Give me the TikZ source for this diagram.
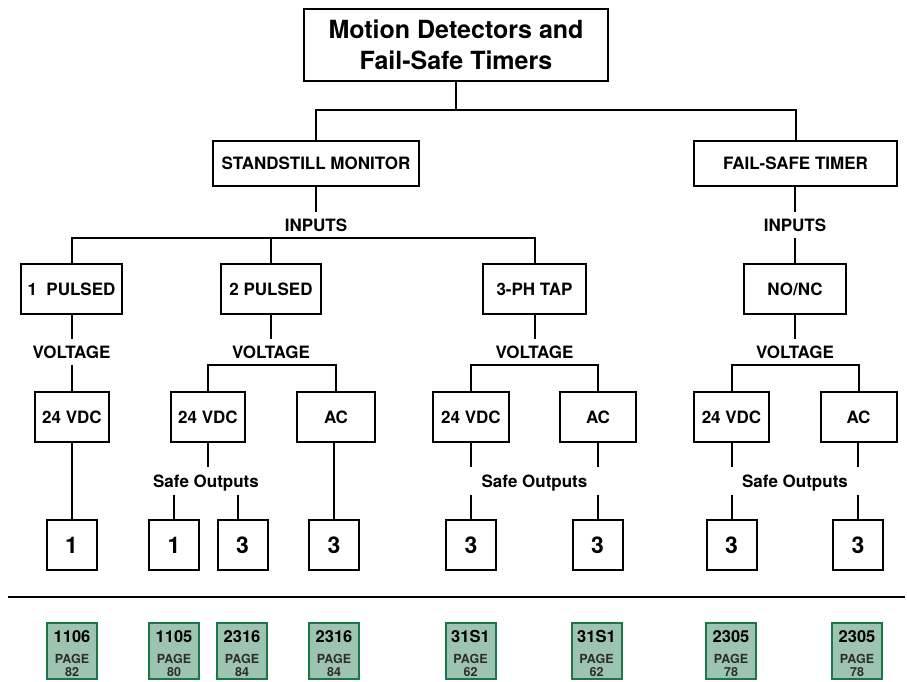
\documentclass[tikz,border=0pt]{standalone}
\usepackage{fontspec}
\setmainfont{TeX Gyre Heros}
\definecolor{refgreen}{RGB}{26,120,72}
\definecolor{refgreenfill}{RGB}{157,196,176}
\definecolor{pagegray}{RGB}{45,45,45}
\begin{document}
\begin{tikzpicture}[x=1pt,y=-1pt,
  ln/.style={line width=2pt},
  bx/.style={draw, line width=2pt, inner sep=0pt, minimum height=50pt, font=\fontsize{17}{19}\selectfont\bfseries},
  numbx/.style={draw, line width=2pt, inner sep=0pt, minimum width=50pt, minimum height=50pt, font=\fontsize{23}{25}\selectfont\bfseries},
  lbl/.style={inner sep=0pt, minimum height=25pt, font=\fontsize{17}{19}\selectfont\bfseries},
  solbl/.style={inner sep=0pt, minimum height=28pt, text height=12pt, text depth=0pt, font=\fontsize{17}{19}\selectfont\bfseries},
  refbx/.style={draw=refgreen, fill=refgreenfill, line width=2pt, inner sep=0pt, minimum width=50pt, minimum height=56pt},
  refnum/.style={anchor=base, inner sep=0pt, font=\fontsize{16.5}{18}\selectfont\bfseries},
  refpg/.style={anchor=base, inner sep=0pt, text=pagegray, font=\fontsize{12.5}{13}\selectfont\bfseries}
]
\useasboundingbox (0,0) rectangle (907,681);

% title and top level
\node[draw, line width=2pt, inner sep=0pt, minimum width=304pt, minimum height=72pt, align=center,
  font=\fontsize{25}{31}\selectfont\bfseries] (title) at (456,45) {Motion Detectors and\\Fail-Safe Timers};
\node[bx, minimum width=206pt, minimum height=45pt] (ssm) at (316,163.5) {STANDSTILL MONITOR};
\node[bx, minimum width=203pt, minimum height=45pt] (fst) at (795.5,163.5) {FAIL-SAFE TIMER};
\coordinate (tj) at (456,110);
\draw[ln] (title.south) -- (tj);
\draw[ln] (ssm.north) |- (tj) -| (fst.north);

% inputs
\node[lbl] (inA) at (316,225) {INPUTS};
\node[lbl] (inB) at (795,225) {INPUTS};
\node[bx, minimum width=101pt] (p1) at (71.5,289) {1\ \ PULSED};
\node[bx, minimum width=100pt] (p2) at (271,289) {2 PULSED};
\node[bx, minimum width=103pt] (p3) at (534.5,289) {3-PH TAP};
\node[bx, minimum width=102pt] (nonc) at (795,289) {NO/NC};
\draw[ln] (ssm.south) -- (inA.north);
\draw[ln] (p1.north) |- (inA.south) -| (p3.north);
\draw[ln] (p2.north) -- (p2.north |- inA.south);
\draw[ln] (fst.south -| inB.north) -- (inB.north);
\draw[ln] (inB.south) -- (nonc.north);

% voltage labels
\node[lbl] (vo1) at (71.5,352) {VOLTAGE};
\node[lbl] (vo2) at (271,352) {VOLTAGE};
\node[lbl] (vo3) at (534.5,352) {VOLTAGE};
\node[lbl] (vo4) at (795,352) {VOLTAGE};

% voltage boxes
\node[bx, minimum width=74pt] (v1) at (72,417) {24 VDC};
\node[bx, minimum width=74pt] (v2a) at (208,417) {24 VDC};
\node[bx, minimum width=78pt] (v2b) at (336,417) {AC};
\node[bx, minimum width=76pt] (v3a) at (471,417) {24 VDC};
\node[bx, minimum width=76pt] (v3b) at (598,417) {AC};
\node[bx, minimum width=75pt] (v4a) at (731.5,417) {24 VDC};
\node[bx, minimum width=76pt] (v4b) at (858.5,417) {AC};

\draw[ln] (p1.south) -- (vo1.north);
\draw[ln] (vo1.south) -- (v1.north -| vo1.south);
\draw[ln] (p2.south) -- (vo2.north);
\draw[ln] (v2a.north) |- (vo2.south) -| (v2b.north);
\draw[ln] (p3.south) -- (vo3.north);
\draw[ln] (v3a.north) |- (vo3.south) -| (v3b.north);
\draw[ln] (nonc.south) -- (vo4.north);
\draw[ln] (v4a.north) |- (vo4.south) -| (v4b.north);

% safe outputs labels
\node[solbl] (so2) at (206,481) {Safe Outputs};
\node[solbl] (so3) at (534.5,481) {Safe Outputs};
\node[solbl] (so4) at (795,481) {Safe Outputs};

% output boxes
\node[numbx] (o1) at (71.5,545) {1};
\node[numbx] (o2a) at (174,545) {1};
\node[numbx] (o2b) at (242.5,545) {3};
\node[numbx] (o2c) at (334,545) {3};
\node[numbx] (o3a) at (471,545) {3};
\node[numbx] (o3b) at (597.5,545) {3};
\node[numbx] (o4a) at (731.5,545) {3};
\node[numbx] (o4b) at (858,545) {3};

\draw[ln] (v1.south -| o1.north) -- (o1.north);
\draw[ln] (v2a.south) -- (v2a.south |- so2.north);
\draw[ln] (o2a.north) -- (o2a.north |- so2.south);
\draw[ln] ([xshift=-4.5pt]o2b.north) -- ([xshift=-4.5pt]o2b.north |- so2.south);
\draw[ln] (v2b.south -| o2c.north) -- (o2c.north);
\draw[ln] (v3a.south -| o3a.north) -- (o3a.north |- so3.north);
\draw[ln] (o3a.north) -- (o3a.north |- so3.south);
\draw[ln] (v3b.south -| o3b.north) -- (o3b.north |- so3.north);
\draw[ln] (o3b.north) -- (o3b.north |- so3.south);
\draw[ln] (v4a.south -| o4a.north) -- (o4a.north |- so4.north);
\draw[ln] (o4a.north) -- (o4a.north |- so4.south);
\draw[ln] (v4b.south -| o4b.north) -- (o4b.north |- so4.north);
\draw[ln] (o4b.north) -- (o4b.north |- so4.south);

% separator
\coordinate (sepL) at (8,597);
\coordinate (sepR) at (905,597);
\draw[ln] (sepL) -- (sepR);

% reference boxes
\foreach \nm/\cx/\code/\pg in {g1/72/1106/82, g2/174/1105/80, g3/242/2316/84, g4/334/2316/84,
    g5/470.5/31S1/62, g6/596.5/31S1/62, g7/731/2305/78, g8/857/2305/78}{
  \node[refbx] (\nm) at (\cx,651) {};
  \node[refnum] (\nm n) at (\cx,642) {\code};
  \node[refpg] (\nm p) at (\cx,663) {PAGE};
  \node[refpg] (\nm q) at (\cx,676) {\pg};
}
\end{tikzpicture}
\end{document}
